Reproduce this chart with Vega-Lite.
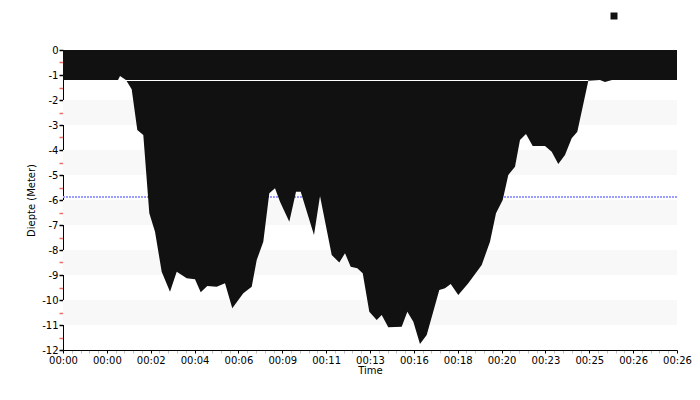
{
  "$schema": "https://vega.github.io/schema/vega-lite/v6.json",
  "autosize": "none",
  "width": 614,
  "height": 300,
  "padding": {"left": 63, "top": 50, "right": 23, "bottom": 50},
  "background": "white",
  "config": {
    "view": {"stroke": null},
    "font": "DejaVu Sans",
    "axis": {
      "labelFont": "DejaVu Sans",
      "labelFontSize": 10,
      "labelColor": "#000",
      "titleFont": "DejaVu Sans",
      "titleFontSize": 10,
      "titleFontWeight": "normal",
      "titleColor": "#000",
      "domainColor": "#000",
      "tickColor": "#000",
      "grid": false,
      "zindex": 1
    }
  },
  "datasets": {
    "depth": [
      {"t": 0, "d": -1.2},
      {"t": 1.254, "d": -1.2},
      {"t": 1.3, "d": -1.04},
      {"t": 1.436, "d": -1.2},
      {"t": 1.566, "d": -1.57},
      {"t": 1.694, "d": -3.2},
      {"t": 1.831, "d": -3.4},
      {"t": 1.968, "d": -6.53},
      {"t": 2.098, "d": -7.27},
      {"t": 2.25, "d": -8.87},
      {"t": 2.44, "d": -9.67},
      {"t": 2.593, "d": -8.87},
      {"t": 2.821, "d": -9.13},
      {"t": 3.01, "d": -9.17},
      {"t": 3.14, "d": -9.69},
      {"t": 3.29, "d": -9.44},
      {"t": 3.505, "d": -9.47},
      {"t": 3.694, "d": -9.33},
      {"t": 3.86, "d": -10.33},
      {"t": 4.111, "d": -9.73},
      {"t": 4.303, "d": -9.47},
      {"t": 4.417, "d": -8.4},
      {"t": 4.567, "d": -7.67},
      {"t": 4.704, "d": -5.73},
      {"t": 4.834, "d": -5.53},
      {"t": 4.948, "d": -6.07},
      {"t": 5.16, "d": -6.87},
      {"t": 5.313, "d": -5.67},
      {"t": 5.42, "d": -5.67},
      {"t": 5.723, "d": -7.4},
      {"t": 5.86, "d": -5.84},
      {"t": 6.127, "d": -8.2},
      {"t": 6.3, "d": -8.5},
      {"t": 6.43, "d": -8.13},
      {"t": 6.56, "d": -8.67},
      {"t": 6.71, "d": -8.73},
      {"t": 6.834, "d": -8.93},
      {"t": 6.984, "d": -10.47},
      {"t": 7.153, "d": -10.8},
      {"t": 7.267, "d": -10.6},
      {"t": 7.417, "d": -11.09},
      {"t": 7.723, "d": -11.07},
      {"t": 7.851, "d": -10.47},
      {"t": 7.988, "d": -10.87},
      {"t": 8.14, "d": -11.76},
      {"t": 8.293, "d": -11.4},
      {"t": 8.58, "d": -9.6},
      {"t": 8.71, "d": -9.53},
      {"t": 8.84, "d": -9.36},
      {"t": 9.013, "d": -9.8},
      {"t": 9.241, "d": -9.33},
      {"t": 9.547, "d": -8.6},
      {"t": 9.736, "d": -7.67},
      {"t": 9.873, "d": -6.53},
      {"t": 10.026, "d": -6.0},
      {"t": 10.153, "d": -5.0},
      {"t": 10.306, "d": -4.67},
      {"t": 10.42, "d": -3.6},
      {"t": 10.557, "d": -3.36},
      {"t": 10.71, "d": -3.84},
      {"t": 10.99, "d": -3.84},
      {"t": 11.143, "d": -4.07},
      {"t": 11.293, "d": -4.56},
      {"t": 11.446, "d": -4.2},
      {"t": 11.599, "d": -3.53},
      {"t": 11.727, "d": -3.27},
      {"t": 11.978, "d": -1.23},
      {"t": 12.244, "d": -1.2},
      {"t": 12.358, "d": -1.28},
      {"t": 12.518, "d": -1.2},
      {"t": 14, "d": -1.2}
    ],
    "bands": [
      {"top": 0, "bottom": -1},
      {"top": -2, "bottom": -3},
      {"top": -4, "bottom": -5},
      {"top": -6, "bottom": -7},
      {"top": -8, "bottom": -9},
      {"top": -10, "bottom": -11}
    ],
    "surface": [{"start": 1.436, "end": 11.978, "level": -1.2}],
    "limit": [{"level": -5.88}]
  },
  "layer": [
    {
      "data": {"name": "bands"},
      "mark": {"type": "rect", "color": "#f8f8f8"},
      "encoding": {
        "y": {
          "field": "top", "type": "quantitative",
          "scale": {"domain": [-12, 0], "nice": false, "zero": false},
          "axis": {
            "title": "Diepte (Meter)",
            "tickCount": 24,
            "labelOverlap": false,
            "labelExpr": "datum.value % 1 == 0 ? '' + datum.value : ''",
            "tickColor": {"condition": {"test": "datum.value % 1 != 0", "value": "#f06a6a"}, "value": "#000"},
            "tickSize": 4,
            "tickWidth": 1.5,
            "labelPadding": 1,
            "titlePadding": 5
          }
        },
        "y2": {"field": "bottom"}
      }
    },
    {
      "data": {"name": "limit"},
      "mark": {"type": "rule", "color": "#9d9dff", "strokeWidth": 2, "strokeDash": [2, 1]},
      "encoding": {"y": {"field": "level", "type": "quantitative"}}
    },
    {
      "data": {"name": "depth"},
      "mark": {"type": "area", "interpolate": "linear"},
      "encoding": {
        "x": {
          "field": "t", "type": "quantitative",
          "scale": {"domain": [0, 14], "nice": false, "zero": false},
          "axis": {
            "title": "Time",
            "tickCount": 70,
            "labelOverlap": false,
            "labelExpr": "datum.value % 1 == 0 ? ['00:00','00:00','00:02','00:04','00:06','00:09','00:11','00:13','00:16','00:18','00:20','00:23','00:25','00:26','00:26'][datum.value] : ''",
            "tickColor": {"condition": {"test": "datum.value % 1 != 0", "value": "#c0c0c0"}, "value": "#000"},
            "tickSize": 3,
            "labelPadding": 2,
            "labelFlush": false,
            "titlePadding": 0
          }
        },
        "y": {"field": "d", "type": "quantitative", "stack": null},
        "y2": {"datum": 0},
        "color": {
          "datum": "Diepte",
          "scale": {"domain": ["Diepte"], "range": ["#111111"]},
          "legend": {
            "orient": "none", "legendX": 546, "legendY": -39,
            "title": null, "labelExpr": "''", "symbolType": "square",
            "symbolSize": 49, "symbolStrokeWidth": 0, "padding": 0
          }
        }
      }
    },
    {
      "data": {"name": "surface"},
      "mark": {"type": "rule", "color": "white", "strokeWidth": 1, "yOffset": 0.5},
      "encoding": {
        "x": {"field": "start", "type": "quantitative"},
        "x2": {"field": "end"},
        "y": {"field": "level", "type": "quantitative"}
      }
    }
  ]
}
